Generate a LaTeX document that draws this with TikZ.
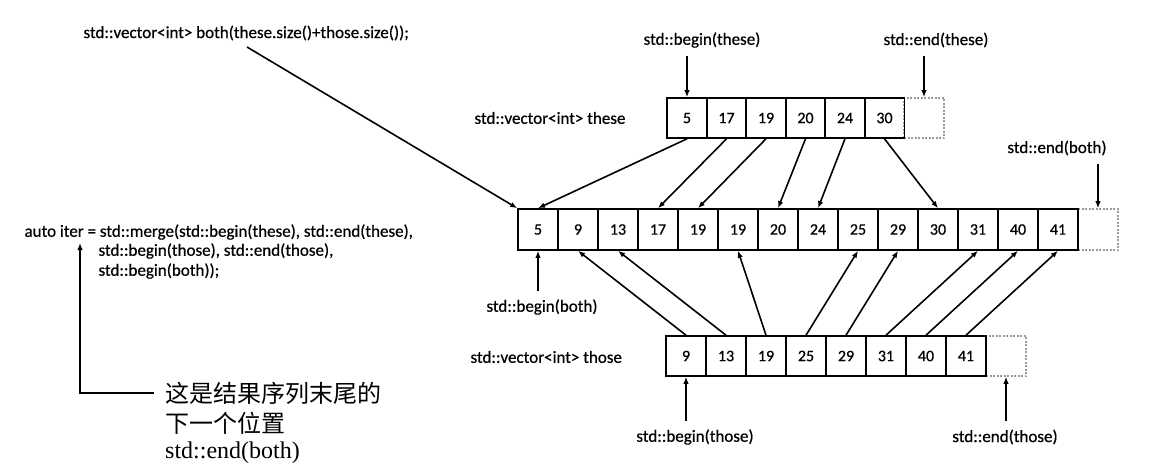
\documentclass[tikz,border=0pt]{standalone}
\usepackage{fontspec}
\setmainfont{Carlito}[FakeBold=0.6]
\newfontfamily\cjk{Noto Sans CJK SC}
\newfontfamily\notefont{Liberation Serif}
\usetikzlibrary{arrows.meta}
\begin{document}
\begin{tikzpicture}[x=1pt, y=-1pt, font=\fontsize{17}{19.5}\selectfont]
  % Define styles
  \tikzstyle{cell}=[rectangle, draw=black, line width=1.6pt, minimum width=40pt, minimum height=40pt, inner sep=0pt, font=\fontsize{16}{18}\selectfont]
  \tikzstyle{endcell}=[cell, draw=black!40, dash pattern=on 2pt off 1.5pt]
  \tikzstyle{ptr}=[-{Latex[length=7pt,width=5.5pt]}, line width=1.6pt]
  \tikzstyle{ptrtext}=[inner sep=3pt]
  \tikzstyle{note}=[anchor=west, inner sep=0pt, font=\cjk\fontsize{24}{30}\selectfont]

  \useasboundingbox (0,0) rectangle (1165,472);

  % Vectors
  \node[endcell] (these-6) at (687+6*39.5,118) {};
  \foreach \v [count=\i from 0] in {5,17,19,20,24,30}
    \node[cell] (these-\i) at (687+\i*39.5,118) {\v};
  \node[endcell, minimum height=41pt] (both-14) at (538+14*40,229.5) {};
  \foreach \v [count=\i from 0] in {5,9,13,17,19,19,20,24,25,29,30,31,40,41}
    \node[cell, minimum height=41pt] (both-\i) at (538+\i*40,229.5) {\v};
  \node[endcell] (those-8) at (686+8*40,356) {};
  \foreach \v [count=\i from 0] in {9,13,19,25,29,31,40,41}
    \node[cell] (those-\i) at (686+\i*40,356) {\v};

  % Code
  \node[anchor=west] (alloc) at (80,33) {std::vector<int> both(these.size()+those.size());};
  \node[anchor=west] (theselbl) at (471,118) {std::vector<int> these};
  \node[anchor=west] (thoselbl) at (467,357) {std::vector<int> those};
  \node[anchor=west] (merge1) at (21,232) {auto iter = std::merge(std::begin(these), std::end(these),};
  \node[anchor=west] (merge2) at (95,251) {std::begin(those), std::end(those),};
  \node[anchor=west] (merge3) at (95,271) {std::begin(both));};

  % Iterators
  \node[ptrtext] (bgthese) at (702,40) {std::begin(these)};
  \node[ptrtext] (edthese) at (936,40) {std::end(these)};
  \node[ptrtext] (edboth) at (1057,148) {std::end(both)};
  \node[ptrtext] (bgboth) at (542,307) {std::begin(both)};
  \node[ptrtext] (bgthose) at (695,437) {std::begin(those)};
  \node[ptrtext] (edthose) at (1005,437) {std::end(those)};

  % Note
  \node[note] (note1) at (165,393) {这是结果序列末尾的};
  \node[note] (note2) at (165,423) {下一个位置};
  \node[note, font=\notefont\fontsize{24}{30}\selectfont] (note3) at (165,453) {std::end(both)};
  \coordinate (allocfoot) at (247,47);
  \coordinate (iterpt) at (80,243);

  % Pointers
  \draw[ptr, shorten <=5pt] (bgthese.south -| these-0.north) -- (these-0.north);
  \draw[ptr, shorten <=5pt] (edthese.south -| these-6.north) -- (these-6.north);
  \draw[ptr, shorten <=5pt] (edboth.south -| both-14.north) -- (both-14.north);
  \draw[ptr, shorten <=5pt] (bgboth.north -| both-0.south) -- (both-0.south);
  \draw[ptr, shorten <=5pt] (bgthose.north -| those-0.south) -- (those-0.south);
  \draw[ptr, shorten <=5pt] (edthose.north -| those-8.south) -- (those-8.south);
  \draw[ptr] (allocfoot) -- (both-0.north west);
  \draw[ptr] ([xshift=-11pt]note1.west) -| (iterpt);

  % Merge
  \foreach \a/\b in {0/0,1/3,2/4,3/6,4/7,5/10}
    \draw[ptr] (these-\a.south) -- (both-\b.north);
  \foreach \a/\b in {0/1,1/2,2/5,3/8,4/9,5/11,6/12,7/13}
    \draw[ptr] (those-\a.north) -- (both-\b.south);
\end{tikzpicture}
\end{document}
